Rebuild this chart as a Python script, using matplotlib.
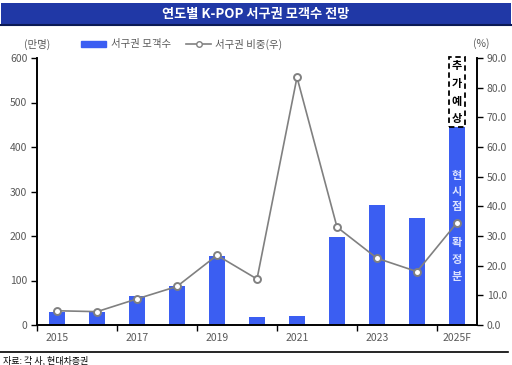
import matplotlib
matplotlib.use("Agg")
import matplotlib.pyplot as plt
from matplotlib.patches import Rectangle
from matplotlib.lines import Line2D
import numpy as np

plt.rcParams['font.family'] = ['Noto Sans CJK KR', 'DejaVu Sans']

years = ['2015', '2016', '2017', '2018', '2019', '2020', '2021', '2022', '2023', '2024', '2025F']
visitors = [30, 30, 65, 88, 155, 17, 20, 197, 270, 240, 445]   # 만명
share = [4.8, 4.5, 8.8, 13.0, 23.5, 15.5, 83.5, 33.0, 22.5, 18.0, 34.5]  # %
extra_top = 600
title = '연도별 K-POP 서구권 모객수 전망'
bar_label = '서구권 모객수'
line_label = '서구권 비중(우)'
source = '자료: 각 사, 현대차증권'

bar_color = '#3B5EF2'
line_color = '#808080'
tick_color = '#595959'

fig = plt.figure(figsize=(5.12, 3.65), dpi=100)
ax = fig.add_axes([37/512, 1-325/365, 440/512, 267/365])
ax2 = ax.twinx()

x = np.arange(len(years))
bw = 0.38
ax.bar(x, visitors, width=bw, color=bar_color, zorder=2)
ax.set_xlim(-0.5, len(years)-0.5)
ax.set_ylim(0, 600)
ax.set_yticks(range(0, 601, 100))

# dashed box for additional forecast
last = len(years)-1
rect = Rectangle((last - bw/2, visitors[-1]), bw, extra_top - visitors[-1] + 3,
                 fill=True, facecolor='white', edgecolor='black', linestyle=(0, (3, 2)),
                 linewidth=1.3, clip_on=False, zorder=3)
ax.add_patch(rect)
for i, ch in enumerate('추가예상'):
    ax.text(last, 583 - i*40, ch, ha='center', va='center', fontsize=8, fontweight='bold',
            color='black', zorder=4)
for i, ch in enumerate('현시점'):
    ax.text(last, 335 - i*34, ch, ha='center', va='center', fontsize=8, fontweight='bold',
            color='#DDE4FF', zorder=4)
for i, ch in enumerate('확정분'):
    ax.text(last, 185 - i*38, ch, ha='center', va='center', fontsize=8, fontweight='bold',
            color='#DDE4FF', zorder=4)

ax2.plot(x, share, color=line_color, linewidth=1.2, marker='o', markersize=5,
         markerfacecolor='white', markeredgecolor=line_color, markeredgewidth=1.4, zorder=5)
ax2.set_ylim(0, 90)
ax2.set_yticks(range(0, 91, 10))
ax2.set_yticklabels([f'{v:.1f}' for v in range(0, 91, 10)])

# x ticks
ax.set_xticks(np.arange(-0.5, len(years), 2), minor=False)
ax.set_xticklabels([])
ax.set_xticks(x[::2], minor=True)
ax.set_xticklabels(years[::2], minor=True)
ax.tick_params(axis='x', which='minor', length=0, labelsize=7.5, labelcolor=tick_color, pad=6)
ax.tick_params(axis='x', which='major', length=4, direction='out', width=1)

ax.tick_params(axis='y', length=4, width=1, labelsize=7.5, labelcolor=tick_color, pad=3)
ax2.tick_params(axis='y', length=4, width=1, labelsize=7.5, labelcolor=tick_color, pad=3)

for a in (ax, ax2):
    a.spines['top'].set_visible(False)
    for s in ('left', 'right', 'bottom'):
        a.spines[s].set_linewidth(1.2)
        a.spines[s].set_color('black')
ax2.set_zorder(ax.get_zorder()+1)
ax2.patch.set_visible(False)

# unit labels
fig.text(37/512, 1-44/365, '(만명)', ha='center', va='center', fontsize=7.5, color=tick_color)
fig.text(481/512, 1-44/365, '(%)', ha='center', va='center', fontsize=7.5, color=tick_color)

# legend
handles = [Rectangle((0, 0), 1, 1, color=bar_color),
           Line2D([0], [0], color=line_color, marker='o', markersize=4, markerfacecolor='white',
                  markeredgecolor=line_color, linewidth=1.2)]
fig.legend(handles, [bar_label, line_label], loc='center left', bbox_to_anchor=(72/512, 1-44/365),
           ncol=2, frameon=False, fontsize=7.5, handlelength=2.4, handleheight=0.5,
           columnspacing=1.5, handletextpad=0.4, labelcolor=tick_color)

# title banner
fig.patches.append(Rectangle((1/512, 1-25/365), 510/512, 22/365, transform=fig.transFigure,
                             facecolor='#2038A6', edgecolor='none'))
fig.lines.append(Line2D([1/512, 511/512], [1-25/365, 1-25/365], transform=fig.transFigure,
                        color='#0B1A55', linewidth=1.5))
fig.text(0.5, 1-14/365, title, ha='center', va='center', fontsize=9.5, fontweight='bold', color='white')

# source line
fig.lines.append(Line2D([0, 508/512], [1-352/365, 1-352/365], transform=fig.transFigure,
                        color='black', linewidth=1.2))
fig.text(3/512, 1-360/365, source, ha='left', va='center', fontsize=6.5, color='black')

fig.savefig('out.png', dpi=100)
